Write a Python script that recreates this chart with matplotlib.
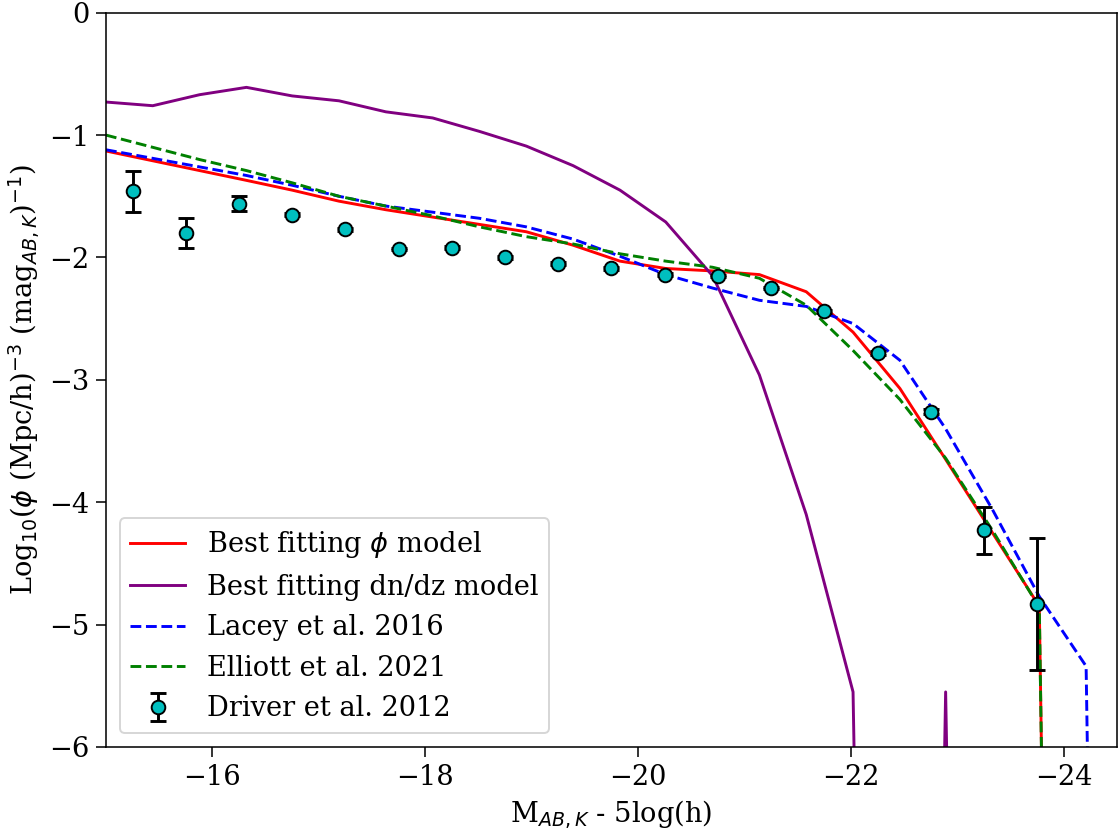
import numpy as np
import matplotlib
matplotlib.use("Agg")
import matplotlib.pyplot as plt

plt.rcParams['font.family'] = 'serif'

# magnitude grid shared by the model curves
mag_grid = [-15.00, -15.44, -15.88, -16.32, -16.75, -17.19, -17.63, -18.07,
            -18.51, -18.95, -19.39, -19.83, -20.26, -20.70, -21.14, -21.58,
            -22.02, -22.46, -22.89, -23.33, -23.77, -24.21, -24.65]

# log10 phi for each model (values far below the axis mark empty bins)
phi_best = [-1.13, -1.21, -1.29, -1.37, -1.45, -1.54, -1.61, -1.67,
            -1.73, -1.79, -1.90, -2.03, -2.09, -2.11, -2.14, -2.28,
            -2.61, -3.07, -3.65, -4.25, -4.85, -30.0, -30.0]
dndz_best = [-0.73, -0.76, -0.67, -0.61, -0.68, -0.72, -0.81, -0.86,
             -0.97, -1.09, -1.25, -1.45, -1.71, -2.15, -2.96, -4.10,
             -5.55, -27.0, -5.55, -27.0, -30.0, -30.0, -30.0]
lacey16 = [-1.12, -1.19, -1.26, -1.33, -1.41, -1.50, -1.58, -1.63,
           -1.68, -1.75, -1.85, -1.99, -2.14, -2.25, -2.35, -2.40,
           -2.54, -2.84, -3.40, -4.06, -4.77, -5.34, -30.0]
elliott21 = [-1.00, -1.10, -1.20, -1.29, -1.39, -1.50, -1.58, -1.66,
             -1.75, -1.83, -1.89, -1.97, -2.03, -2.08, -2.17, -2.39,
             -2.76, -3.16, -3.64, -4.23, -4.86, -30.0, -30.0]

# Driver et al. 2012 K-band luminosity function
driver_mag = [-15.25, -15.75, -16.25, -16.75, -17.25, -17.75, -18.25, -18.75,
              -19.25, -19.75, -20.25, -20.75, -21.25, -21.75, -22.25, -22.75,
              -23.25, -23.75]
driver_phi = [-1.46, -1.80, -1.56, -1.65, -1.77, -1.93, -1.92, -2.00,
              -2.05, -2.09, -2.14, -2.15, -2.25, -2.44, -2.78, -3.26,
              -4.23, -4.83]
driver_err = [0.17, 0.125, 0.06, 0.015, 0.01, 0.01, 0.01, 0.01,
              0.01, 0.01, 0.01, 0.01, 0.01, 0.01, 0.015, 0.02,
              0.19, 0.54]

fig = plt.figure(figsize=(8.0, 830 / 140), dpi=140)
ax = fig.add_axes([0.0946, 0.100, 0.9027, 0.8847])

ax.plot(mag_grid, phi_best, color='red', label=r'Best fitting $\phi$ model')
ax.plot(mag_grid, dndz_best, color='purple', label='Best fitting dn/dz model')
ax.plot(mag_grid, lacey16, color='blue', linestyle='--', label='Lacey et al. 2016')
ax.plot(mag_grid, elliott21, color='green', linestyle='--', label='Elliott et al. 2021')
ax.errorbar(driver_mag, driver_phi, yerr=driver_err, fmt='o', color='black',
            markerfacecolor='c', markeredgecolor='black', markersize=7,
            capsize=4, capthick=1.5, elinewidth=1.5, label='Driver et al. 2012',
            zorder=5)

ax.set_xlim(-15, -24.5)
ax.set_ylim(-6, 0)
ax.set_xticks([-16, -18, -20, -22, -24])
ax.tick_params(labelsize=14, length=5)
ax.set_xlabel(r'M$_{AB,K}$ - 5log(h)', fontsize=14)
ax.set_ylabel(r'Log$_{10}$($\phi$ (Mpc/h)$^{-3}$ (mag$_{AB,K}$)$^{-1}$)', fontsize=14)
ax.legend(loc='lower left', fontsize=14)

fig.savefig('out.png', dpi=140)
